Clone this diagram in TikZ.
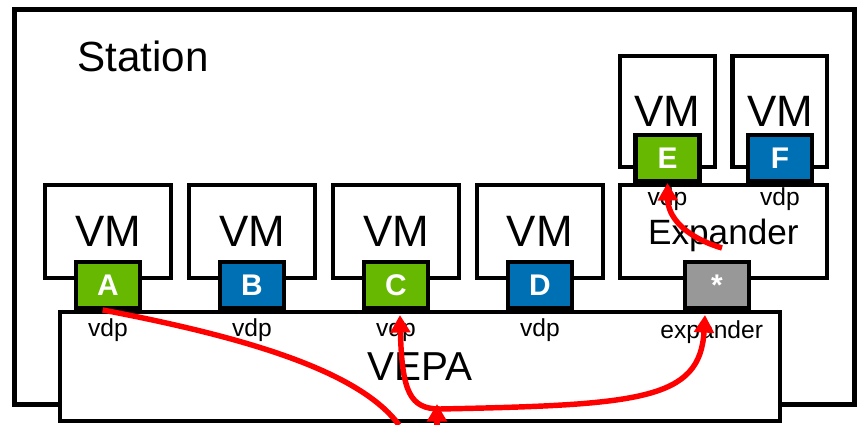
\documentclass[tikz,border=0pt]{standalone}
\usepackage{fontspec}
\setmainfont{Liberation Sans}
\usepackage{tikz}
\usetikzlibrary{positioning,arrows.meta}

\definecolor{vdpgreen}{RGB}{102,184,0}
\definecolor{vdpblue}{RGB}{0,112,180}
\definecolor{expgray}{RGB}{152,152,152}

\begin{document}
\begin{tikzpicture}[x=0.02cm, y=-0.02cm, node distance=2.88cm,
    >={Triangle[length=10pt,width=11pt]},
    box/.style={draw, line width=2.3pt, fill=white, inner sep=0pt},
    vmbox/.style={box, minimum width=2.52cm, minimum height=1.86cm, font=\fontsize{25pt}{30pt}\selectfont},
    topvm/.style={box, minimum width=1.9cm, minimum height=2.22cm, font=\fontsize{25pt}{30pt}\selectfont},
    port/.style={draw, line width=2.3pt, anchor=south, minimum width=1.28cm, minimum height=0.92cm,
      inner sep=0pt, text=white, font=\fontsize{17pt}{20pt}\bfseries\selectfont},
    small/.style={inner sep=0pt, font=\fontsize{14pt}{16pt}\selectfont},
    flow/.style={red, line width=3.1pt}]
    \useasboundingbox (0,0) rectangle (860,425);

    \node[draw, line width=2.8pt, minimum width=16.8cm, minimum height=7.9cm] (station) at (434.5,207) {};
    \node[anchor=base west, inner sep=0pt, font=\fontsize{24pt}{28pt}\selectfont] (title) at (77,72) {Station};

    % virtual machines
    \node[vmbox] (vm1) at (108,231.5) {VM};
    \node[vmbox] (vm2) [right of=vm1] {VM};
    \node[vmbox] (vm3) [right of=vm2] {VM};
    \node[vmbox] (vm4) [right of=vm3] {VM};
    \node[box, minimum width=4.14cm, minimum height=1.86cm, text depth=0pt,
      font=\fontsize{20pt}{24pt}\selectfont] (expander) [right of=vm4, node distance=3.67cm] {Expander};
    \node[topvm] (vmE) at (667.5,111.5) {VM};
    \node[topvm] (vmF) [right of=vmE, node distance=2.25cm] {VM};

    \node[box, minimum width=14.4cm, minimum height=2.18cm, font=\fontsize{23pt}{28pt}\selectfont] (vepa) at (420,366.5) {VEPA};

    % ports
    \node[port, fill=vdpgreen] (portA) at (vm1 |- vepa.north) {A};
    \node[port, fill=vdpblue] (portB) at (vm2 |- vepa.north) {B};
    \node[port, fill=vdpgreen] (portC) at (vm3 |- vepa.north) {C};
    \node[port, fill=vdpblue] (portD) at (vm4 |- vepa.north) {D};
    \node[port, fill=expgray] (portX) at (717,310) {*};
    \node[port, fill=vdpgreen] (portE) at (vmE |- expander.north) {E};
    \node[port, fill=vdpblue] (portF) at (vmF |- expander.north) {F};

    \node[small, below=0.16cm of portA] {vdp};
    \node[small, below=0.16cm of portB] {vdp};
    \node[small, below=0.16cm of portC] {vdp};
    \node[small, below=0.16cm of portD] {vdp};
    \node[small, below=0.2cm of portX, xshift=-3pt] {expander};
    \node[small, below=0.08cm of portE] {vdp};
    \node[small, below=0.08cm of portF] {vdp};

    % traffic
    \coordinate (enterA) at (399,425);
    \coordinate (enterB) at (437,425);
    \coordinate (joinB) at (437,404);
    \coordinate (fromX) at (722,248);

    \draw[flow] ([xshift=-3pt]portA.south) .. controls (250,338) and (360,372) .. (enterA);
    \draw[flow,->] (enterB) -- (joinB);
    \draw[flow,<->] ([shift={(4,5)}]portC.south) .. controls (402,392) and (410,409) .. (440,409)
      .. controls (640,405) and (700,400) .. ([shift={(-12,5)}]portX.south);
    \draw[flow,->] (fromX) .. controls (682,236) and (668,215) .. (portE.south);
\end{tikzpicture}
\end{document}
